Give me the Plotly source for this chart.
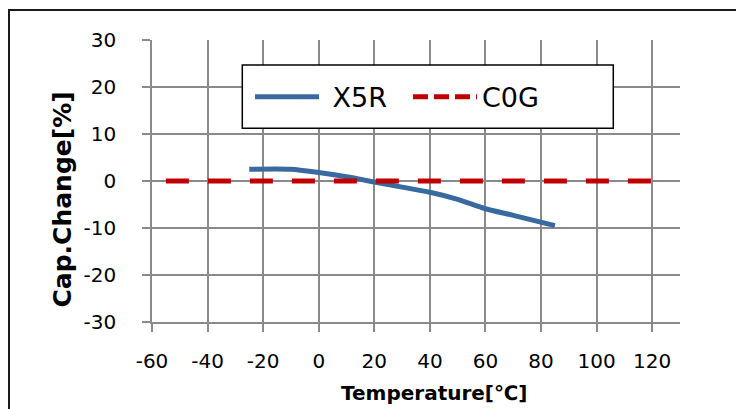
import plotly.graph_objects as go

# Data
x5r_temp = [-25, -10, 0, 10, 20, 30, 40, 50, 60, 70, 85]
x5r_change = [2.5, 2.5, 1.8, 0.9, -0.2, -1.3, -2.4, -3.9, -5.9, -7.3, -9.5]
c0g_temp = [-55, 125]
c0g_change = [0, 0]

x_ticks = [-60, -40, -20, 0, 20, 40, 60, 80, 100, 120]
y_ticks = [-30, -20, -10, 0, 10, 20, 30]

W, H = 736, 409
L, R, T, B = 152, 56, 40, 87
pw, ph = W - L - R, H - T - B

def px(xp):
    return (xp - L) / pw

def py(yp):
    return (H - B - yp) / ph

GRID = "#8a8a8a"
BLUE = "#386aa0"
RED = "#c00000"
TICKFONT = dict(family="DejaVu Sans", size=20, color="#000000")
LEGFONT = dict(family="DejaVu Sans", size=27, color="#000000")

fig = go.Figure()
fig.add_trace(go.Scatter(
    x=x5r_temp, y=x5r_change, name="\u00a0X5R", mode="lines", legend="legend",
    line=dict(color=BLUE, width=5, shape="spline", smoothing=0.8),
))
fig.add_trace(go.Scatter(
    x=c0g_temp, y=c0g_change, name="C0G", mode="lines", showlegend=False,
    line=dict(color=RED, width=5, dash="23px,19px"),
))
# legend-only entry for C0G (Excel draws a shorter dash pattern in the key)
fig.add_trace(go.Scatter(
    x=[None], y=[None], name="C0G", mode="lines", legend="legend2",
    line=dict(color=RED, width=5, dash="15px,6px"),
))

fig.update_layout(
    width=W, height=H,
    margin=dict(l=L, r=R, t=T, b=B, pad=0),
    paper_bgcolor="white", plot_bgcolor="white",
    showlegend=True,
    legend=dict(
        orientation="h", x=px(250), xanchor="left", y=py(97.3), yanchor="middle",
        bgcolor="rgba(0,0,0,0)", borderwidth=0, font=LEGFONT, itemwidth=64,
    ),
    legend2=dict(
        orientation="h", x=px(408), xanchor="left", y=py(97.3), yanchor="middle",
        bgcolor="rgba(0,0,0,0)", borderwidth=0, font=LEGFONT, itemwidth=64,
    ),
    xaxis=dict(
        range=[-60, 130], tickvals=x_ticks, ticktext=[str(v) for v in x_ticks],
        showgrid=True, gridcolor=GRID, gridwidth=1.5,
        showline=True, linecolor=GRID, linewidth=1.5,
        ticks="outside", ticklen=8, tickwidth=1.5, tickcolor=GRID,
        zeroline=False, tickfont=TICKFONT, ticklabelstandoff=12,
    ),
    yaxis=dict(
        range=[-30, 30], tickvals=y_ticks, ticktext=[str(v) for v in y_ticks],
        showgrid=True, gridcolor=GRID, gridwidth=1.5,
        showline=True, linecolor=GRID, linewidth=1.5,
        ticks="outside", ticklen=8, tickwidth=1.5, tickcolor=GRID,
        zeroline=False, tickfont=TICKFONT, ticklabelstandoff=22,
    ),
    shapes=[
        dict(type="rect", xref="paper", yref="paper",
             x0=px(242.3), x1=px(613.3), y0=py(128.3), y1=py(65),
             line=dict(color="#000000", width=1.5), fillcolor="white", layer="above"),
        dict(type="rect", xref="paper", yref="paper",
             x0=px(9), x1=px(760), y0=py(440), y1=py(10),
             line=dict(color="#1a1a1a", width=2), fillcolor="rgba(0,0,0,0)", layer="above"),
    ],
    annotations=[
        dict(text="<b>Temperature[℃]</b>", xref="paper", yref="paper",
             x=px(434), y=py(393), xanchor="center", yanchor="middle", showarrow=False,
             font=dict(family="DejaVu Sans", size=20, color="#000000")),
        dict(text="<b>Cap.Change[%]</b>", xref="paper", yref="paper",
             x=px(62.5), y=py(200), xanchor="center", yanchor="middle", showarrow=False,
             textangle=-90,
             font=dict(family="DejaVu Sans", size=25, color="#000000")),
    ],
)

fig.write_html("out.html")
